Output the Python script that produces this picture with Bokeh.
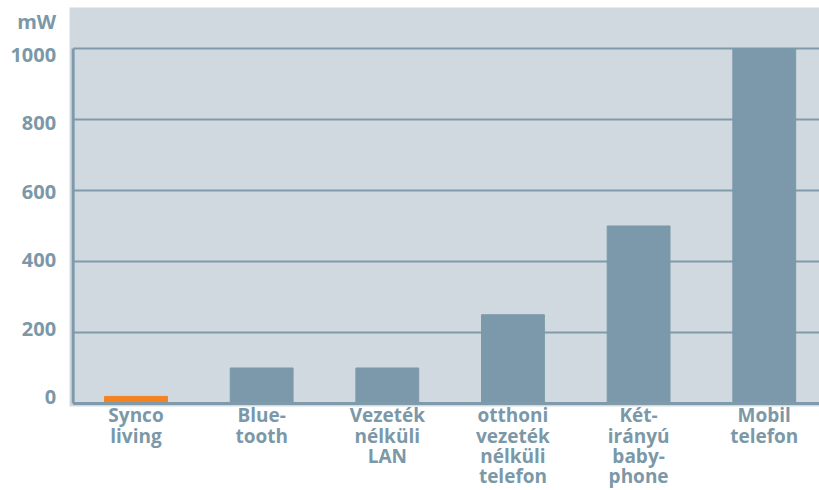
from bokeh.plotting import figure
from bokeh.models import Range1d, ColumnDataSource
from bokeh.core.properties import value
from bokeh.embed import file_html
from bokeh.resources import INLINE

categories = ["Synco\nliving", "Blue-\ntooth", "Vezeték\nnélküli\nLAN",
              "otthoni\nvezeték\nnélküli\ntelefon", "Két-\nirányú\nbaby-\nphone",
              "Mobil\ntelefon"]
values = [20, 100, 100, 250, 500, 1000]
bar_colors = ["#f5821f", "#7b99aa", "#7b99aa", "#7b99aa", "#7b99aa", "#7b99aa"]
y_ticks = [0, 200, 400, 600, 800, 1000]
y_tick_labels = ["0", "200", "400", "600", "800", "1000"]
unit = "mW"

PANEL = "#d0d9df"
LINE = "#7f9bab"
TEXT = "#7b98a8"
FONT = value("Open Sans")

xs = list(range(len(categories)))
x0 = xs[0] - 0.5          # left axis line position (half a slot before first bar)
ymax = max(y_ticks)

# frame covers the whole canvas
p = figure(width=819, height=490, output_backend="svg", toolbar_location=None,
           x_range=Range1d(-1.0784, 5.4397), y_range=Range1d(-245.1, 1135.2),
           min_border=0, x_axis_location=None, y_axis_location=None)
p.background_fill_color = "white"
p.border_fill_color = "white"
p.outline_line_color = None
p.grid.visible = False

# light grey chart panel
p.quad(left=[-0.529], right=[p.x_range.end], bottom=[-8.45], top=[1115.5],
       fill_color=PANEL, line_color=None)

# grid lines
p.segment(x0=[x0] * len(y_ticks), y0=y_ticks, x1=[p.x_range.end] * len(y_ticks),
          y1=y_ticks, line_color=LINE, line_width=2)

src = ColumnDataSource(dict(x=xs, top=values, color=bar_colors))
p.vbar(x="x", top="top", width=0.5, bottom=0, color="color", source=src)

# baseline & vertical axis line
p.segment(x0=[x0], y0=[0], x1=[x0], y1=[ymax], line_color=LINE, line_width=3)
p.segment(x0=[x0], y0=[0], x1=[p.x_range.end], y1=[0], line_color=LINE, line_width=3)

# tick labels (on a slightly different scale as in the reference)
p.extra_y_ranges = {"lab": Range1d(-273.0, 1157.7)}
p.text(x=[x0] * len(y_ticks), y=y_ticks, text=y_tick_labels, y_range_name="lab",
       x_offset=-17, text_align="right", text_baseline="middle",
       text_font=FONT, text_font_style="bold", text_font_size="20px",
       text_color=TEXT)
p.text(x=[x0], y=[ymax], text=[unit], y_range_name="lab",
       x_offset=-17, y_offset=-33, text_align="right", text_baseline="middle",
       text_font=FONT, text_font_style="bold", text_font_size="20px",
       text_color=TEXT)

# category labels
p.text(x=xs, y=[0] * len(xs), text=categories, y_offset=-1,
       text_align="center", text_baseline="top", text_line_height=0.78,
       text_font=FONT, text_font_style="bold", text_font_size="19px",
       text_color=TEXT)

open("out.html", "w").write(file_html(p, INLINE))
